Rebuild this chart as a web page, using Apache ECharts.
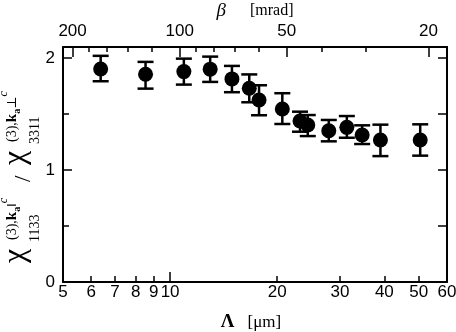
<!DOCTYPE html>
<html><head><meta charset="utf-8">
<script src="https://cdn.jsdelivr.net/npm/echarts@6/dist/echarts.min.js"></script>
<style>html,body{margin:0;padding:0;background:#fff}#c{width:456px;height:332px}</style>
</head><body><div id="c"></div>
<script>
// ---- data ----
const lambdaUm = [6.38, 8.53, 10.93, 12.96, 14.92, 16.69, 17.78, 20.67, 23.18, 24.37, 27.92, 31.38, 34.65, 39.0, 50.45];
const ratio    = [1.904, 1.857, 1.880, 1.902, 1.815, 1.731, 1.627, 1.546, 1.439, 1.403, 1.352, 1.382, 1.313, 1.269, 1.269];
const errLow   = [1.794, 1.728, 1.764, 1.788, 1.696, 1.606, 1.490, 1.412, 1.343, 1.304, 1.257, 1.289, 1.233, 1.125, 1.129];
const errHigh  = [2.021, 1.967, 1.996, 2.014, 1.931, 1.855, 1.758, 1.687, 1.522, 1.492, 1.448, 1.483, 1.400, 1.406, 1.409];
const lambdaLabels = [5, 6, 7, 8, 9, 10, 20, 30, 40, 50, 60];
const lambdaMajorTicks = [10];
const lambdaMinorTicks = [6, 7, 8, 9, 20, 30, 40, 50];
const betaLabels = [200, 100, 50, 20];
const betaMinorTicks = [180, 160, 140, 120, 90, 80, 70, 60, 40, 30];
const yLabels = [0, 1, 2];
const yMinorTicks = [0.5, 1.5];
const yRightTicks = [0, 0.5, 1, 1.5, 2];
const betaLambdaProduct = 1064; // beta[mrad] * Lambda[um]
const lambdaMin = 5, lambdaMax = 60, yMin = 0, yMax = 2.1;

// ---- layout ----
const SANS = '"Liberation Sans", Arial, sans-serif';
const SERIF = '"Liberation Serif", "DejaVu Serif", serif';
const lg = Math.log10;
const fmt = v => String(Math.round(Math.pow(10, v)));
const black = '#000';

function logAxis(extra) {
  return Object.assign({
    type: 'value', gridIndex: 0,
    splitLine: { show: false },
    axisLine: { show: false, onZero: false },
    axisLabel: { show: false },
    axisTick: { show: false }
  }, extra);
}
const lamRange = { min: lg(lambdaMin), max: lg(lambdaMax) };
const betaRange = { min: lg(betaLambdaProduct / lambdaMax), max: lg(betaLambdaProduct / lambdaMin), inverse: true };

const meas = document.createElement('canvas').getContext('2d');
function tw(font, t) { meas.font = font; return meas.measureText(t).width; }
function piece(t, lx, base, size, extra) {
  const font = (extra ? extra + ' ' : '') + size + 'px ' + SERIF;
  return { el: { type: 'text', x: lx, y: base - 0.34 * size,
    style: { text: t, font: font, fill: black, align: 'left', verticalAlign: 'middle' } }, w: tw(font, t) };
}
function chiTerm(lx0, sym, subText) {
  const out = [piece('χ', lx0, 1.5, 32).el];
  let x = lx0 + 23;
  const sup = [['(3),', -8, 14, ''], ['k', -8, 15, 'bold'], ['a', -4, 10, 'bold'], [sym, -8, 13, ''], ['c', -17, 12, 'italic']];
  sup.forEach(([t, b, s, e]) => { const p = piece(t, x, b, s, e); out.push(p.el); x += p.w; });
  out.push(piece(subText, lx0 + 21, 15, 14).el);
  return out;
}
const titleChildren = [].concat(chiTerm(19, '‖', '1133'), [piece('/', 100, 7, 23).el], chiTerm(117, '⊥', '3311'));

const chart = echarts.init(document.getElementById('c'), null, { renderer: 'canvas' });
chart.setOption({
  animation: false,
  backgroundColor: '#fff',
  grid: { left: 63, right: 9, top: 47, bottom: 50, containLabel: false, outerBoundsMode: 'none' },
  xAxis: [
    { type: 'log', logBase: 10, min: lambdaMin, max: lambdaMax, position: 'bottom', show: false, axisLine: { onZero: false } },
    logAxis(Object.assign({}, lamRange, {
      position: 'bottom',
      axisLine: { show: true, onZero: false, lineStyle: { color: black, width: 2 } },
      axisTick: { show: true, inside: true, length: 10, customValues: lambdaMajorTicks.map(lg), lineStyle: { color: black, width: 1.5 } },
      axisLabel: { show: true, customValues: lambdaLabels.map(lg), formatter: fmt, color: black, fontFamily: SANS, fontSize: 17, margin: 2 },
      name: '{L|Λ}{u|[μm]}', nameLocation: 'middle', nameGap: 31, nameMoveOverlap: false,
      nameTextStyle: { padding: [0, 8, 0, 0], rich: {
        L: { fontFamily: SERIF, fontWeight: 'bold', fontSize: 19, color: black, padding: [0, 13, 0, 0] },
        u: { fontFamily: SERIF, fontSize: 17, color: black } } }
    })),
    logAxis(Object.assign({}, lamRange, {
      position: 'bottom',
      axisTick: { show: true, inside: true, length: 6, customValues: lambdaMinorTicks.map(lg), lineStyle: { color: black, width: 1.5 } }
    })),
    logAxis(Object.assign({}, betaRange, {
      position: 'top',
      axisLine: { show: true, onZero: false, lineStyle: { color: black, width: 2 } },
      axisTick: { show: true, inside: true, length: 10, customValues: betaLabels.map(lg), lineStyle: { color: black, width: 1.5 } },
      axisLabel: { show: true, customValues: betaLabels.map(lg), formatter: fmt, color: black, fontFamily: SANS, fontSize: 17, margin: 7 },
      name: '{b|β}{m|[mrad]}', nameLocation: 'middle', nameGap: 27, nameMoveOverlap: false,
      nameTextStyle: { rich: {
        b: { fontFamily: SERIF, fontStyle: 'italic', fontSize: 19, color: black, padding: [0, 24, 0, 0] },
        m: { fontFamily: SERIF, fontSize: 16, color: black } } }
    })),
    logAxis(Object.assign({}, betaRange, {
      position: 'top',
      axisTick: { show: true, inside: true, length: 5, customValues: betaMinorTicks.map(lg), lineStyle: { color: black, width: 1.5 } }
    }))
  ],
  yAxis: [
    { type: 'value', min: yMin, max: yMax, position: 'left', splitLine: { show: false },
      axisLine: { show: true, onZero: false, lineStyle: { color: black, width: 2 } },
      axisTick: { show: true, inside: true, length: 9, customValues: yLabels, lineStyle: { color: black, width: 1.5 } },
      axisLabel: { show: true, customValues: yLabels, color: black, fontFamily: SANS, fontSize: 17, margin: 8 } },
    { type: 'value', min: yMin, max: yMax, position: 'left', splitLine: { show: false },
      axisLine: { show: false, onZero: false }, axisLabel: { show: false },
      axisTick: { show: true, inside: true, length: 6, customValues: yMinorTicks, lineStyle: { color: black, width: 1.5 } } },
    { type: 'value', min: yMin, max: yMax, position: 'right', splitLine: { show: false },
      axisLine: { show: true, onZero: false, lineStyle: { color: black, width: 2 } }, axisLabel: { show: false },
      axisTick: { show: true, inside: true, length: 9, customValues: yRightTicks, lineStyle: { color: black, width: 1.5 } } }
  ],
  graphic: [{ type: 'group', x: 25, y: 282, rotation: Math.PI / 2, children: titleChildren }],
  series: [
    { type: 'custom', xAxisIndex: 0, yAxisIndex: 0, encode: { x: 0, y: [1, 2] },
      data: lambdaUm.map((l, i) => [l, errLow[i], errHigh[i]]),
      renderItem: function (params, api) {
        const x = api.value(0);
        const lo = api.coord([x, api.value(1)]);
        const hi = api.coord([x, api.value(2)]);
        const hw = 8, st = { stroke: black, lineWidth: 2.5 };
        return { type: 'group', children: [
          { type: 'line', shape: { x1: lo[0], y1: lo[1], x2: hi[0], y2: hi[1] }, style: st },
          { type: 'line', shape: { x1: lo[0] - hw, y1: lo[1], x2: lo[0] + hw, y2: lo[1] }, style: st },
          { type: 'line', shape: { x1: hi[0] - hw, y1: hi[1], x2: hi[0] + hw, y2: hi[1] }, style: st }
        ] };
      } },
    { type: 'scatter', xAxisIndex: 0, yAxisIndex: 0, symbol: 'circle', symbolSize: 15,
      itemStyle: { color: black, opacity: 1 },
      data: lambdaUm.map((l, i) => [l, ratio[i]]) }
  ]
});
</script></body></html>
